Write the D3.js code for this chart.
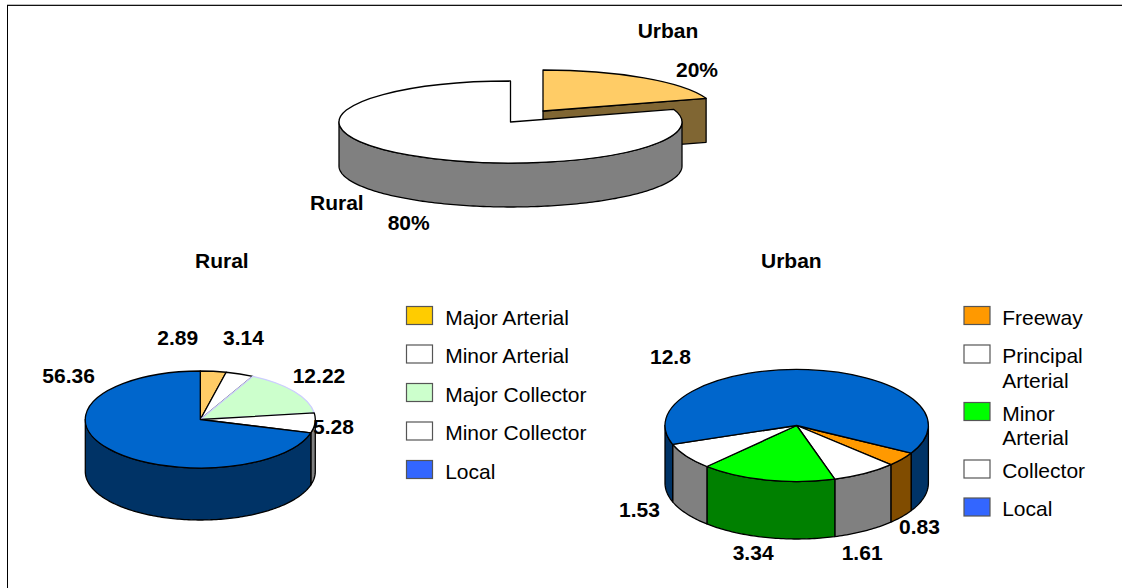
<!DOCTYPE html>
<html>
<head>
<meta charset="utf-8">
<title>Road length by area and functional class</title>
<script src="https://cdn.jsdelivr.net/npm/d3@7"></script>
<style>
  html, body { margin: 0; padding: 0; background: #fff; }
  svg { display: block; }
  text { font-family: "Liberation Sans", Arial, sans-serif; font-size: 21px; fill: #000; }
  .value, .title { font-weight: bold; }
</style>
</head>
<body>
<svg id="charts" width="1122" height="588"></svg>
<script>
// Three 3D-style pies: area split on top, functional class below

const areaValues = [20, 80];
const areaLabels = ['20%', '80%'];
const areaTops = ['#FFCC66', '#FFFFFF'];
const areaSides = ['#806633', '#808080'];
const areaStrokes = ['#000', '#000'];

const ruralNames = ['Major Arterial', 'Minor Arterial', 'Major Collector', 'Minor Collector', 'Local'];
const ruralValues = [2.89, 3.14, 12.22, 5.28, 56.36];
const ruralTops = ['#FFCC66', '#FFFFFF', '#CCFFCC', '#FFFFFF', '#0066CC'];
const ruralSides = ['#806633', '#808080', '#668066', '#808080', '#003366'];
const ruralStrokes = ['#000', '#000', '#CCCCFF', '#000', '#000'];
const ruralSwatches = ['#FFCC00', '#FFFFFF', '#CCFFCC', '#FFFFFF', '#3366FF'];

const urbanNames = [['Freeway'], ['Principal', 'Arterial'], ['Minor', 'Arterial'], ['Collector'], ['Local']];
const urbanValues = [0.83, 1.61, 3.34, 1.53, 12.8];
const urbanTops = ['#FF9900', '#FFFFFF', '#00FF00', '#FFFFFF', '#0066CC'];
const urbanSides = ['#804C00', '#808080', '#008000', '#808080', '#003366'];
const urbanStrokes = ['#000', '#000', '#000', '#000', '#000'];
const urbanSwatches = ['#FF9900', '#FFFFFF', '#00FF00', '#FFFFFF', '#3366FF'];

const svg = d3.select('#charts');
const TAU = Math.PI * 2;
const lineWidth = 1.3;

// angles run clockwise from 12 o'clock, like d3.pie
function rim(shape, angle) {
  return [shape.cx + shape.rx * Math.sin(angle), shape.cy - shape.ry * Math.cos(angle)];
}

// one curved wall section between two angles
function wallPath(shape, a0, a1) {
  const steps = Math.max(2, Math.ceil((a1 - a0) / 0.02));
  const top = d3.range(steps + 1).map(function (i) { return rim(shape, a0 + (a1 - a0) * i / steps); });
  const bottom = top.slice().reverse().map(function (p) { return [p[0], p[1] + shape.depth]; });
  return d3.line()(top.concat(bottom)) + 'Z';
}

// only the front half of the cylinder can be seen
function visibleWalls(shape, slice) {
  const fronts = [[Math.PI / 2, Math.PI * 1.5], [Math.PI / 2 + TAU, Math.PI * 1.5 + TAU]];
  return fronts.map(function (f) {
    return [Math.max(f[0], slice.startAngle), Math.min(f[1], slice.endAngle)];
  }).filter(function (r) { return r[0] < r[1]; }).map(function (r) {
    return wallPath(shape, r[0], r[1]);
  });
}

function drawWalls(g, shape, slice, side) {
  visibleWalls(shape, slice).forEach(function (d) {
    g.append('path')
      .attr('d', d)
      .attr('fill', side)
      .attr('stroke', '#000')
      .attr('stroke-width', lineWidth)
      .attr('stroke-linejoin', 'round');
  });
}

// the cut face shows when a slice is pulled out of the pie
function drawCutFace(g, shape, slice, side) {
  const a = [shape.cx, shape.cy];
  const b = rim(shape, slice.endAngle);
  g.append('path')
    .attr('d', d3.line()([a, b, [b[0], b[1] + shape.depth], [a[0], a[1] + shape.depth]]) + 'Z')
    .attr('fill', side)
    .attr('stroke', '#000')
    .attr('stroke-width', lineWidth)
    .attr('stroke-linejoin', 'round');
}

function drawCap(g, shape, slice, top, stroke) {
  g.append('path')
    .attr('transform', 'translate(' + shape.cx + ',' + shape.cy + ') scale(' + shape.rx + ',' + shape.ry + ')')
    .attr('d', d3.arc().innerRadius(0).outerRadius(1)(slice))
    .attr('fill', top)
    .attr('stroke', stroke)
    .attr('stroke-width', lineWidth)
    .attr('stroke-linejoin', 'round')
    .attr('vector-effect', 'non-scaling-stroke');
}

function drawPie(shape, values, tops, sides, strokes) {
  const slices = d3.pie().sort(null)
    .startAngle(shape.start)
    .endAngle(shape.start + TAU)(values);
  const g = svg.append('g');

  // walls first, caps second, so the rim line stays on top of every wall
  slices.forEach(function (s, i) { drawWalls(g, shape, s, sides[i]); });
  slices.forEach(function (s, i) { drawCap(g, shape, s, tops[i], strokes[i]); });
}

function drawLabels(texts, spots, cls) {
  svg.append('g').selectAll('text')
    .data(texts)
    .join('text')
    .attr('class', cls)
    .attr('x', function (d, i) { return spots[i][0]; })
    .attr('y', function (d, i) { return spots[i][1]; })
    .text(function (d) { return d; });
}

function drawLegend(x, textX, tops, colours, rows) {
  const g = svg.append('g');
  g.selectAll('rect')
    .data(colours)
    .join('rect')
    .attr('x', x + 0.5)
    .attr('y', function (d, i) { return tops[i] + 0.5; })
    .attr('width', 26)
    .attr('height', 18)
    .attr('fill', function (d) { return d; })
    .attr('stroke', '#555')
    .attr('stroke-width', 1.2);
  rows.forEach(function (lines, i) {
    lines.forEach(function (line, j) {
      g.append('text')
        .attr('x', textX)
        .attr('y', tops[i] + 18.5 + j * 24.5)
        .text(line);
    });
  });
}

// frame, open on the right and at the bottom
svg.append('line').attr('x1', 7).attr('x2', 1122).attr('y1', 4.5).attr('y2', 4.5).attr('stroke', '#BBB');
svg.append('line').attr('x1', 7).attr('x2', 1122).attr('y1', 5.5).attr('y2', 5.5).attr('stroke', '#111');
svg.append('line').attr('x1', 7.5).attr('x2', 7.5).attr('y1', 5).attr('y2', 588).attr('stroke', '#000');

// area split: the urban slice is pulled up and to the right
const areaShape = { cx: 510.5, cy: 122, rx: 171.5, ry: 41, depth: 44 };
const pulledShape = Object.assign({}, areaShape, { cx: 543, cy: 111 });
const areaSlices = d3.pie().sort(null)(areaValues);
const areaGroup = svg.append('g');
drawCutFace(areaGroup, pulledShape, areaSlices[0], areaSides[0]);
drawWalls(areaGroup, pulledShape, areaSlices[0], areaSides[0]);
drawCap(areaGroup, pulledShape, areaSlices[0], areaTops[0], areaStrokes[0]);
drawWalls(areaGroup, areaShape, areaSlices[1], areaSides[1]);
drawCap(areaGroup, areaShape, areaSlices[1], areaTops[1], areaStrokes[1]);

drawPie({ cx: 200.3, cy: 419.5, rx: 115, ry: 48.5, depth: 52, start: 0 },
  ruralValues, ruralTops, ruralSides, ruralStrokes);
drawPie({ cx: 796.7, cy: 425.5, rx: 131.7, ry: 56, depth: 57.5, start: 119.5 * Math.PI / 180 },
  urbanValues, urbanTops, urbanSides, urbanStrokes);

// titles and value labels
drawLabels(['Urban', 'Rural'], [[637.7, 38], [310, 210]], 'title');
drawLabels(areaLabels, [[676, 76.7], [387.7, 230]], 'value');
drawLabels(['Rural', 'Urban'], [[195, 268], [761, 268]], 'title');
drawLabels(ruralValues.map(String),
  [[157.3, 345], [223, 345], [292.7, 383], [313, 434], [42.3, 383]], 'value');
drawLabels(urbanValues.map(String),
  [[899, 534], [841.7, 560], [732.7, 560], [619, 516.7], [650, 364]], 'value');

drawLegend(406, 445.2, [306, 344.5, 383, 421.5, 460], ruralSwatches, ruralNames.map(function (n) { return [n]; }));
drawLegend(963.5, 1002.2, [306, 344.5, 402, 459.5, 497.5], urbanSwatches, urbanNames);
</script>
</body>
</html>
